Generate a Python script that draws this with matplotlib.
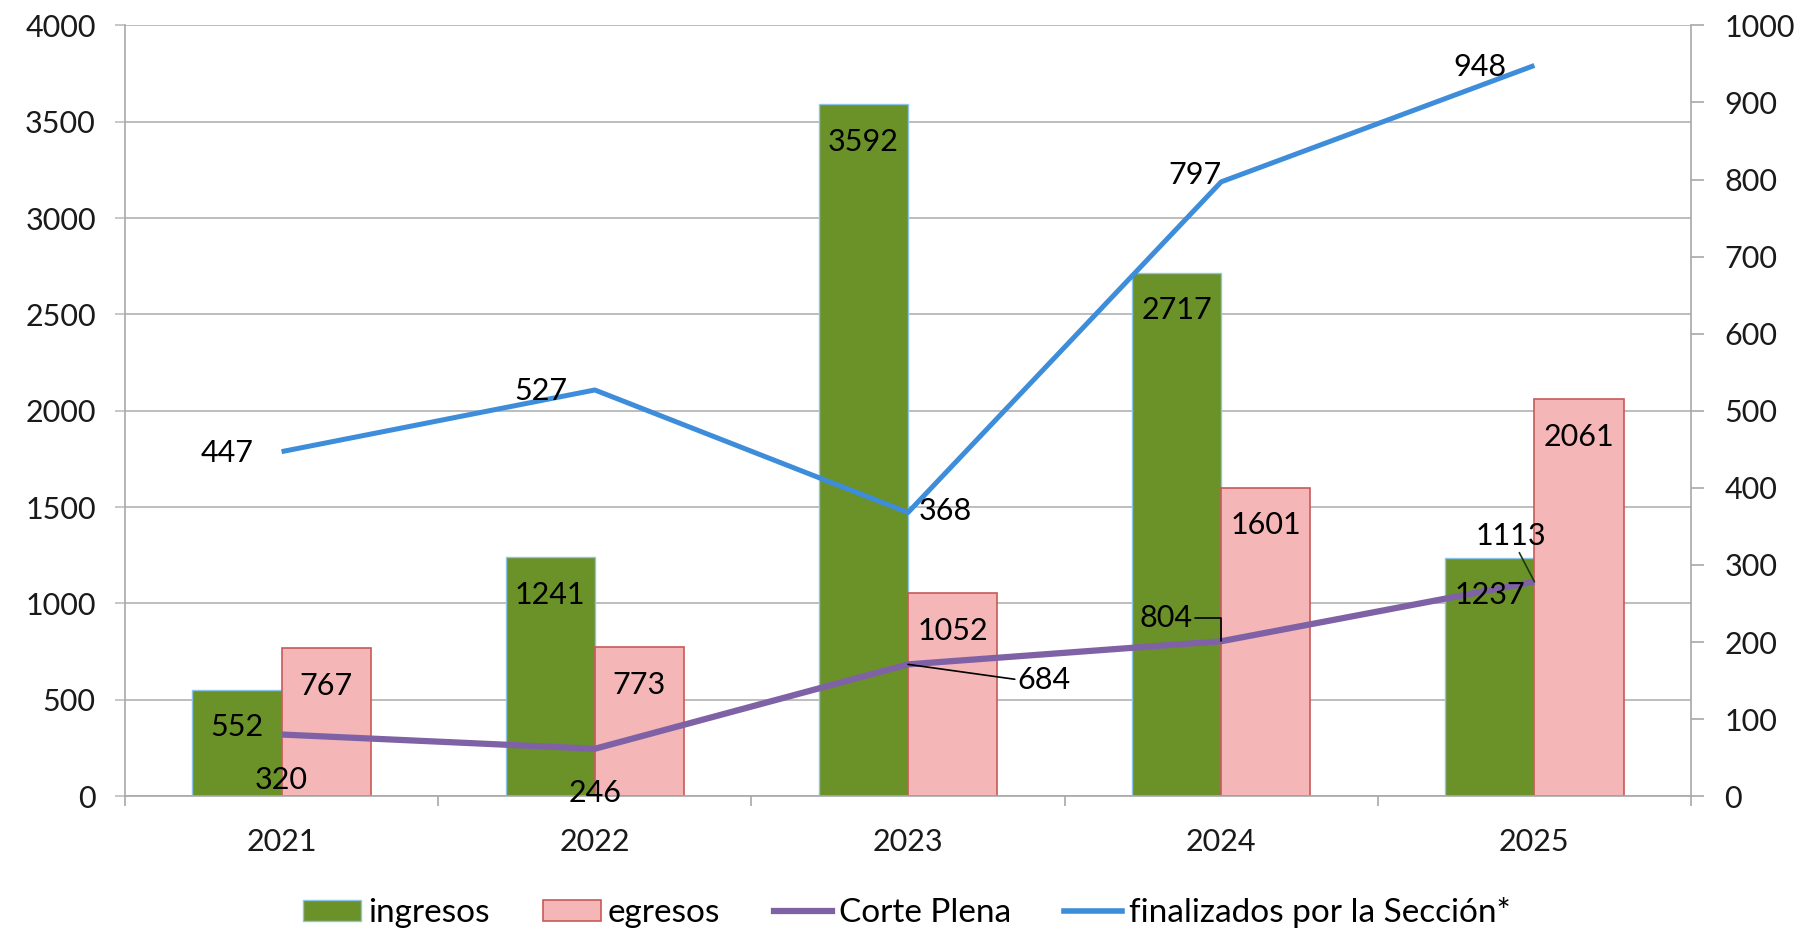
import matplotlib
matplotlib.use("Agg")
import matplotlib.pyplot as plt
from matplotlib.patches import Patch
from matplotlib.lines import Line2D
import numpy as np

plt.rcParams['font.family'] = ['Lato', 'DejaVu Sans']

years = ["2021", "2022", "2023", "2024", "2025"]
ingresos = [552, 1241, 3592, 2717, 1237]
egresos = [767, 773, 1052, 1601, 2061]
corte_plena = [320, 246, 684, 804, 1113]
finalizados = [447, 527, 368, 797, 948]

left_ticks = [0, 500, 1000, 1500, 2000, 2500, 3000, 3500, 4000]
right_ticks = [0, 100, 200, 300, 400, 500, 600, 700, 800, 900, 1000]

GREEN = '#6B9129'
GREEN_EDGE = '#8CC4E8'
PINK = '#F4B6B6'
PINK_EDGE = '#C65A58'
PURPLE = '#7F62A6'
BLUE = '#3E8DDA'
GRID = '#BDBDBD'
TXT = '#1a1a1a'
FS = 22
LFS = 24

fig = plt.figure(figsize=(18.14, 9.40), dpi=100)
ax = fig.add_axes([0.0689, 0.153, 0.8633, 0.820])
ax2 = ax.twinx()

x = np.arange(len(years))
w = 0.285

ax.bar(x - w / 2, ingresos, w, color=GREEN, edgecolor=GREEN_EDGE, linewidth=1.0, zorder=2)
ax.bar(x + w / 2, egresos, w, color=PINK, edgecolor=PINK_EDGE, linewidth=1.2, zorder=2)
ax.plot(x, corte_plena, color=PURPLE, lw=4.5, zorder=3, solid_capstyle='butt')
ax2.plot(x, finalizados, color=BLUE, lw=3.6, zorder=3, solid_capstyle='butt')

ax.set_xlim(-0.5, len(years) - 0.5)
ax.set_ylim(0, 4000)
ax2.set_ylim(0, 1000)

ax.set_yticks(left_ticks)
ax2.set_yticks(right_ticks)
ax.set_xticks(x)
ax.set_xticklabels(years)
ax.set_xticks(np.arange(-0.5, len(years), 1.0), minor=True)

ax.yaxis.grid(True, color=GRID, lw=1.4)
ax.set_axisbelow(True)

for a in (ax, ax2):
    a.spines['top'].set_visible(False)
    for s in ('left', 'right', 'bottom'):
        a.spines[s].set_color('#A8A8A8')
        a.spines[s].set_linewidth(1.2)

ax.spines['right'].set_visible(False)
ax2.spines['left'].set_visible(False)
ax2.spines['bottom'].set_visible(False)

ax.tick_params(axis='y', length=7, width=1.2, color=GRID, pad=14, labelsize=FS, labelcolor=TXT)
ax2.tick_params(axis='y', length=9, width=1.2, color='#A8A8A8', pad=15, labelsize=FS, labelcolor=TXT)
ax.tick_params(axis='x', which='major', length=0, pad=23, labelsize=FS, labelcolor=TXT)
ax.tick_params(axis='x', which='minor', length=7, width=1.2, color='#A8A8A8')

# bar labels (inside end)
for i in range(len(years)):
    ax.annotate(str(ingresos[i]), (x[i] - w / 2, ingresos[i]), xytext=(0, -27),
                textcoords='offset points', ha='center', va='center', fontsize=FS, color='black', zorder=5)
    ax.annotate(str(egresos[i]), (x[i] + w / 2, egresos[i]), xytext=(0, -27),
                textcoords='offset points', ha='center', va='center', fontsize=FS, color='black', zorder=5)

# Corte Plena labels
cp_offsets = [(0, -33), (0, -32), (98, -11), (-40, 17), (-17, 33)]
for i, (dx, dy) in enumerate(cp_offsets):
    kw = {}
    if i == 2:
        kw['arrowprops'] = dict(arrowstyle='-', color='black', lw=1.2, shrinkA=0, shrinkB=0,
                                relpos=(0, 0.5))
    elif i == 3:
        kw['arrowprops'] = dict(arrowstyle='-', color='black', lw=1.2, shrinkA=0, shrinkB=0,
                                relpos=(1, 0.5), connectionstyle='angle,angleA=0,angleB=90,rad=0')
    elif i == 4:
        kw['arrowprops'] = dict(arrowstyle='-', color='#1a3a10', lw=1.2, shrinkA=0, shrinkB=0,
                                relpos=(0.6, 0))
    ax.annotate(str(corte_plena[i]), (x[i], corte_plena[i]), xytext=(dx, dy),
                textcoords='offset points', ha='center', va='center', fontsize=FS,
                color='black', zorder=6, **kw)

# finalizados labels
fin_offsets = [(-39, -1), (-39, -1), (27, 1), (-19, 5), (-39, -1)]
for i, (dx, dy) in enumerate(fin_offsets):
    ax2.annotate(str(finalizados[i]), (x[i], finalizados[i]), xytext=(dx, dy),
                 textcoords='offset points', ha='center', va='center', fontsize=FS,
                 color='black', zorder=6)

handles = [
    Patch(facecolor=GREEN, edgecolor=GREEN_EDGE, lw=1.0),
    Patch(facecolor=PINK, edgecolor=PINK_EDGE, lw=1.2),
    Line2D([0], [0], color=PURPLE, lw=4.5),
    Line2D([0], [0], color=BLUE, lw=4.0),
]
labels = ["ingresos", "egresos", "Corte Plena", "finalizados por la Sección*"]
fig.legend(handles, labels, loc='center', bbox_to_anchor=(0.5, 0.029), ncol=4, frameon=False,
           fontsize=LFS, handlelength=1.75, handleheight=0.6, handletextpad=0.2, columnspacing=1.6)

fig.savefig("out.png", dpi=100, facecolor='white')
